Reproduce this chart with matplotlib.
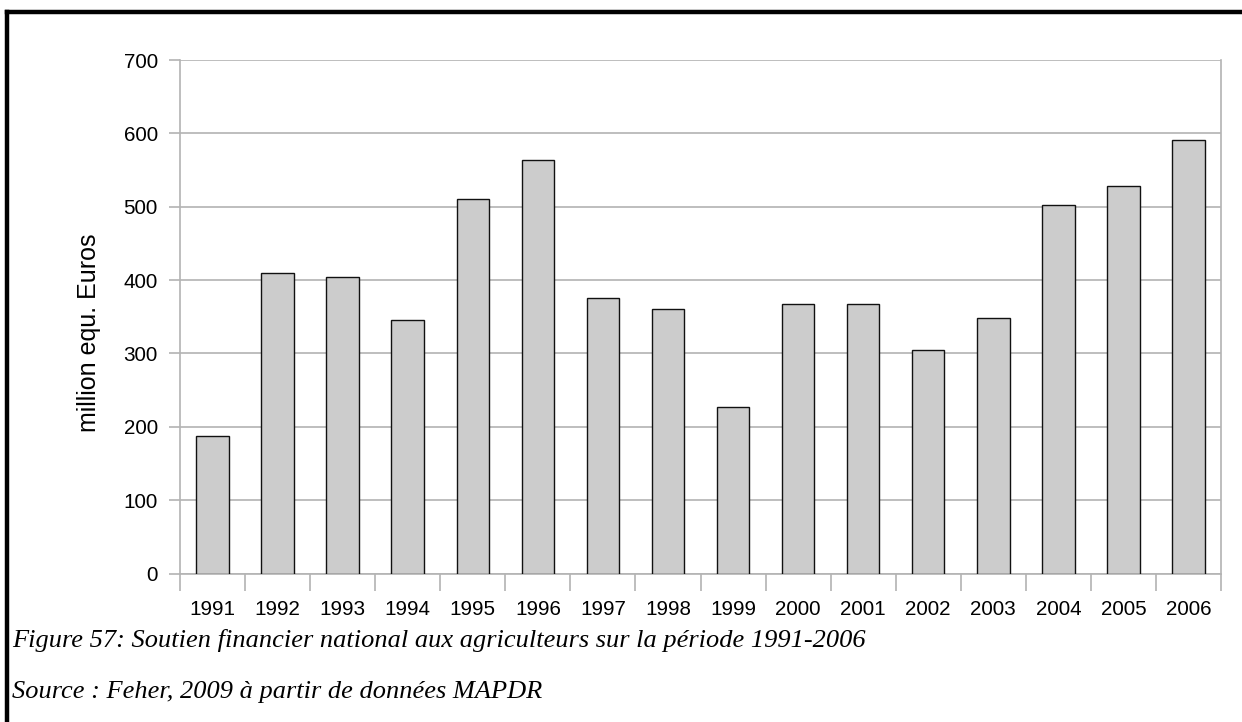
import matplotlib
matplotlib.use("Agg")
import matplotlib.pyplot as plt
from matplotlib.lines import Line2D
import numpy as np

years = ["1991", "1992", "1993", "1994", "1995", "1996", "1997", "1998",
         "1999", "2000", "2001", "2002", "2003", "2004", "2005", "2006"]
values = [187, 409, 404, 346, 511, 564, 375, 360, 227, 367, 367, 304, 348, 502, 528, 591]
yticks = [0, 100, 200, 300, 400, 500, 600, 700]
ylabel = "million equ. Euros"
caption1 = "Figure 57: Soutien financier national aux agriculteurs sur la période 1991-2006"
caption2 = "Source : Feher, 2009 à partir de données MAPDR"

W, H = 1242, 722
fig = plt.figure(figsize=(W / 100, H / 100), dpi=100)
fig.patch.set_facecolor("white")

left, right, top, bottom = 180, 1221, 60, 573.5
ax = fig.add_axes([left / W, 1 - bottom / H, (right - left) / W, (bottom - top) / H])

x = np.arange(len(years))
ax.bar(x, values, width=0.5, color="#cccccc", edgecolor="#111111", linewidth=1.0, zorder=3)
ax.set_xlim(-0.5, len(years) - 0.5)
ax.set_ylim(0, 700)
ax.set_yticks(yticks)
ax.set_yticklabels([str(v) for v in yticks], fontsize=14.9, family="Liberation Sans")
ax.yaxis.grid(True, color="#b3b3b3", linewidth=1.2, zorder=0)
ax.set_axisbelow(True)

# x ticks: labels at centers, tick marks between categories
ax.set_xticks(x)
ax.set_xticklabels(years, fontsize=14.9, family="Liberation Sans")
ax.tick_params(axis="x", which="major", length=0, pad=19)
ax.set_xticks(np.arange(len(years) + 1) - 0.5, minor=True)
ax.tick_params(axis="x", which="minor", length=12, color="#b3b3b3", width=1.2)
ax.tick_params(axis="y", length=8, color="#b3b3b3", width=1.2, pad=8)

for s in ["left", "right", "bottom"]:
    ax.spines[s].set_color("#b3b3b3")
    ax.spines[s].set_linewidth(1.2)
ax.spines["top"].set_visible(False)

ax.set_ylabel(ylabel, fontsize=18, family="Liberation Sans")
ax.yaxis.set_label_coords((101 - left) / (right - left), (bottom - 332.5) / (bottom - top))

# page frame (top and left lines)
fig.add_artist(Line2D([7 / W, 1.0], [1 - 12 / H, 1 - 12 / H], color="black", linewidth=3.2,
                      transform=fig.transFigure))
fig.add_artist(Line2D([7 / W, 7 / W], [1 - 12 / H, 0], color="black", linewidth=3.2,
                      transform=fig.transFigure))

fig.text(12 / W, 1 - 641 / H, caption1, fontsize=19, family="Liberation Serif",
         style="italic", va="center", ha="left")
fig.text(12 / W, 1 - 692 / H, caption2, fontsize=19, family="Liberation Serif",
         style="italic", va="center", ha="left")

fig.savefig("out.png", dpi=100)
